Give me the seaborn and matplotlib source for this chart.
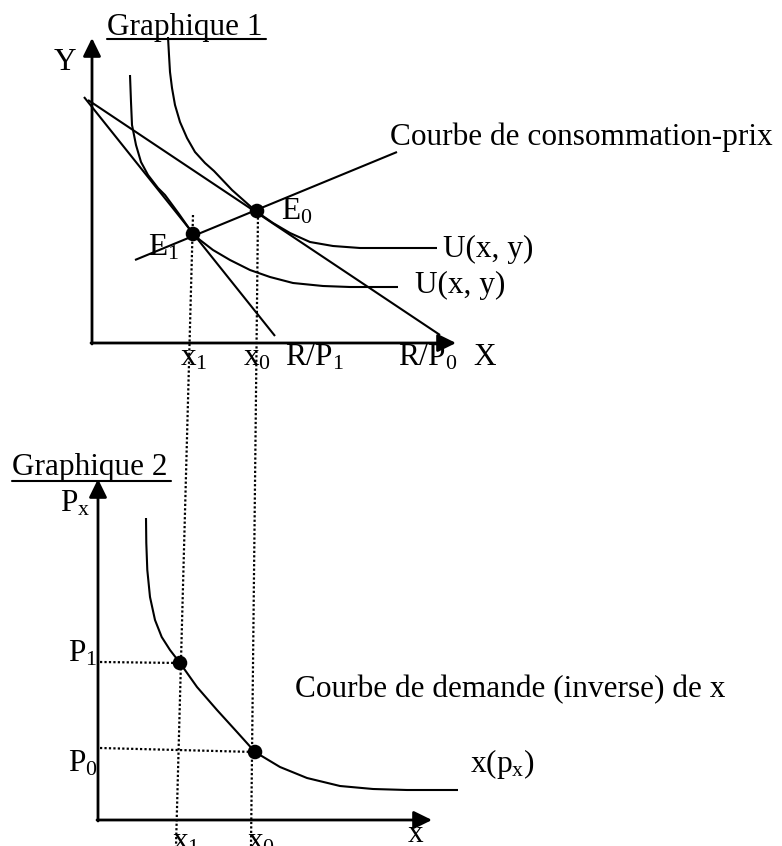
import matplotlib
matplotlib.use("Agg")
import matplotlib.pyplot as plt
import seaborn as sns
import pandas as pd

# ---------------- data (pixel units, y downwards) -------------
# Graphique 1 : indifference curves, budget lines, price-consumption curve
ic0_x = [168, 169, 170, 172, 175, 180, 187, 195, 205, 214, 232, 250, 257, 273, 290, 310, 333, 360, 437]
ic0_y = [37, 55, 72, 88, 105, 122, 138, 152, 163, 171, 190, 206, 212, 223, 233, 242, 246, 248, 248]
ic1_x = [130, 131, 132, 136, 141, 148, 158, 165, 179, 193, 200, 213, 230, 250, 270, 293, 323, 350, 398]
ic1_y = [75, 102, 125, 145, 162, 175, 188, 195, 214, 234, 240, 250, 260, 270, 277, 283, 286, 287, 287]
budget1_x = [84, 275]
budget1_y = [97, 336]
budget0_x = [88, 440]
budget0_y = [100, 335]
pcc_x = [135, 397]
pcc_y = [260, 152]
eq_x = [257, 193]          # E0, E1
eq_y = [211, 234]
g1_origin = (92, 343)
g1_ytip = 38
g1_xtip = 456

# Graphique 2 : demand curve
dem_x = [146, 146.3, 147.3, 150, 155, 161.7, 170, 180, 197, 217, 237, 255, 280, 307, 340, 373, 407, 458]
dem_y = [518, 543, 570, 597, 620, 637, 650, 663, 687, 710, 732, 752, 767, 778, 786, 789, 790, 790]
dem_pts_x = [180, 255]     # (x1, P1), (x0, P0)
dem_pts_y = [663, 752]
g2_origin = (98, 820)
g2_ytip = 479
g2_xtip = 432

# dotted guide lines
guide_x1 = ([193, 176], [215, 846])
guide_x0 = ([258, 251], [213, 846])
guide_p1 = ([100, 180], [662, 663])
guide_p0 = ([100, 255], [748, 752])

# labels: (text, left x, baseline y)
labels = [
    ("Graphique 1", 107, 35),
    ("Y", 54, 70),
    ("Courbe de consommation-prix", 390, 145),
    (r"$\mathrm{E}_0$", 281, 220),
    (r"$\mathrm{E}_1$", 148, 255),
    ("U(x, y)", 443, 257),
    ("U(x, y)", 415, 293),
    (r"$\mathrm{x}_1$", 180, 365),
    (r"$\mathrm{x}_0$", 243, 365),
    (r"$\mathrm{R/P}_1$", 285, 365),
    (r"$\mathrm{R/P}_0$", 398, 365),
    ("X", 473, 365),
    ("Graphique 2", 12, 475),
    (r"$\mathrm{P}_\mathrm{x}$", 60, 512),
    (r"$\mathrm{P}_1$", 68, 661),
    (r"$\mathrm{P}_0$", 68, 771),
    ("Courbe de demande (inverse) de x", 295, 697),
    (r"$\mathrm{x(p}_\mathrm{x}\mathrm{)}$", 470, 772),
    (r"$\mathrm{x}_1$", 172, 849),
    (r"$\mathrm{x}_0$", 247, 849),
    ("x", 408, 842),
]
underlines = [((107, 266), 39), ((12, 171), 481)]

# ---------------- drawing -------------
sns.set_theme(style="white")
plt.rcParams["font.family"] = ["Liberation Serif", "DejaVu Serif"]
plt.rcParams["mathtext.fontset"] = "custom"
plt.rcParams["mathtext.rm"] = "Liberation Serif"
plt.rcParams["mathtext.it"] = "Liberation Serif:italic"

W, H = 782, 846
fig = plt.figure(figsize=(W / 100, H / 100), dpi=100)
ax = fig.add_axes([0, 0, 1, 1])
ax.set_xlim(0, W)
ax.set_ylim(H, 0)
ax.axis("off")

LW = 1.5
lines = [(ic0_x, ic0_y), (ic1_x, ic1_y), (budget1_x, budget1_y),
         (budget0_x, budget0_y), (pcc_x, pcc_y), (dem_x, dem_y)]
for xs, ys in lines:
    df = pd.DataFrame({"x": xs, "y": ys})
    sns.lineplot(data=df, x="x", y="y", sort=False, estimator=None,
                 color="black", lw=LW, ax=ax)
for l in ax.get_lines():
    l.set_solid_joinstyle("round")
    l.set_solid_capstyle("butt")

for xs, ys in [guide_x1, guide_x0, guide_p1, guide_p0]:
    df = pd.DataFrame({"x": xs, "y": ys})
    sns.lineplot(data=df, x="x", y="y", sort=False, estimator=None,
                 color="black", lw=1.6, ls=(0, (1, 1)), ax=ax)

sns.scatterplot(x=eq_x + dem_pts_x, y=eq_y + dem_pts_y, color="black",
                s=110, edgecolor="none", ax=ax, zorder=5)

# axes with arrows
arrow = dict(arrowstyle="-|>,head_length=0.55,head_width=0.27",
             color="black", lw=2.0, shrinkA=0, shrinkB=0, mutation_scale=20)
for (ox, oy), ytip, xtip in [(g1_origin, g1_ytip, g1_xtip), (g2_origin, g2_ytip, g2_xtip)]:
    ax.annotate("", xy=(ox, ytip), xytext=(ox, oy + 1), arrowprops=arrow)
    ax.annotate("", xy=(xtip, oy), xytext=(ox - 1, oy), arrowprops=arrow)

for txt, x, y in labels:
    ax.text(x, y, txt, fontsize=22.5, ha="left", va="baseline", color="black")

for (x0, x1), y in underlines:
    ax.plot([x0, x1], [y, y], color="black", lw=1.5)

ax.set_xlabel("")
ax.set_ylabel("")
fig.savefig("out.png", dpi=100, facecolor="white")
